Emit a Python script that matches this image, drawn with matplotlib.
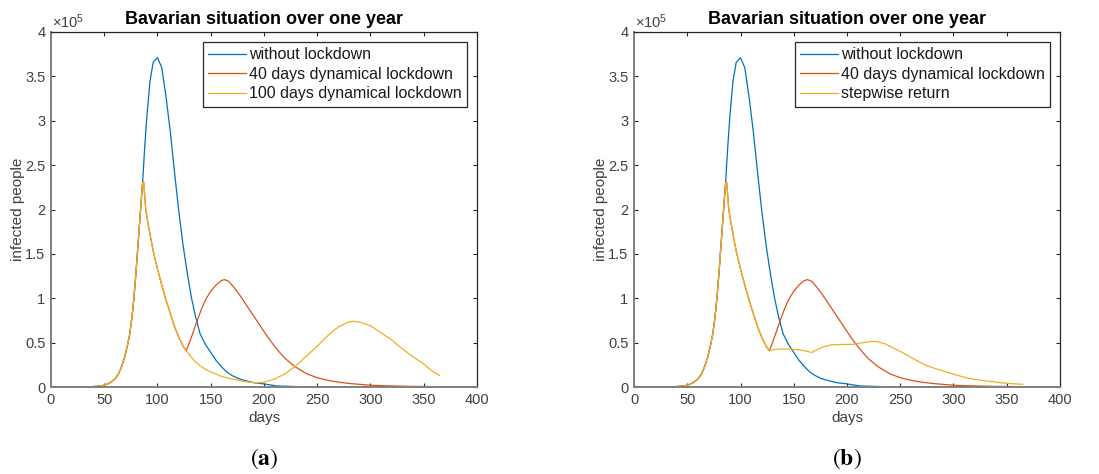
import matplotlib
matplotlib.use('Agg')
import matplotlib.pyplot as plt
from matplotlib.ticker import MultipleLocator, FuncFormatter

plt.rcParams['font.family'] = ['Liberation Sans', 'DejaVu Sans']
plt.rcParams['mathtext.fontset'] = 'custom'
plt.rcParams['mathtext.rm'] = 'Liberation Sans'
plt.rcParams['mathtext.it'] = 'Liberation Sans'

# infected people, in units of 1e5
# growth phase, identical for every scenario
days_growth = [0, 10, 20, 30, 40, 45, 50, 55, 60, 63, 66, 69, 72, 74, 76, 78, 80, 82, 84, 86]
infected_growth = [0.0, 0.0, 0.001, 0.002, 0.005, 0.01, 0.02, 0.045, 0.09, 0.14, 0.22, 0.33,
                   0.48, 0.6, 0.78, 1.02, 1.32, 1.65, 1.98, 2.3]

# no measures at all
days_free = [88, 90, 93, 96, 100, 104, 108, 112, 116, 120, 124, 128, 132, 136, 140, 145, 150,
             155, 160, 165, 170, 175, 180, 190, 200, 212, 230, 260, 300]
infected_free = [2.7, 3.05, 3.45, 3.66, 3.71, 3.6, 3.27, 2.88, 2.42, 1.98, 1.6, 1.28, 1.0, 0.78,
                 0.6, 0.48, 0.39, 0.3, 0.23, 0.17, 0.13, 0.1, 0.08, 0.05, 0.035, 0.012, 0.005,
                 0.002, 0.001]

# first 40 days of lockdown (shared by the lockdown scenarios)
days_lock = [87, 89, 91, 93, 96, 100, 104, 108, 112, 116, 120, 124, 127]
infected_lock = [2.31, 2.0, 1.85, 1.72, 1.53, 1.33, 1.15, 0.98, 0.83, 0.68, 0.56, 0.46, 0.41]

# after a 40 days lockdown
days_40 = [130, 133, 137, 141, 145, 150, 155, 160, 163, 167, 172, 177, 182, 187, 192, 197, 202,
           208, 214, 220, 229, 240, 250, 260, 270, 280, 290, 300, 320, 340, 365]
infected_40 = [0.5, 0.6, 0.74, 0.87, 0.98, 1.08, 1.15, 1.2, 1.21, 1.19, 1.12, 1.04, 0.95, 0.86,
               0.77, 0.68, 0.59, 0.49, 0.4, 0.32, 0.23, 0.15, 0.105, 0.075, 0.055, 0.04, 0.03,
               0.02, 0.012, 0.007, 0.004]

# after a 100 days lockdown
days_100 = [131, 135, 140, 145, 150, 160, 170, 180, 190, 195, 200, 210, 220, 230, 240, 250, 260,
            270, 280, 285, 290, 300, 310, 320, 330, 340, 350, 358, 365]
infected_100 = [0.35, 0.29, 0.24, 0.2, 0.17, 0.12, 0.09, 0.065, 0.05, 0.048, 0.055, 0.09, 0.15,
                0.24, 0.35, 0.46, 0.58, 0.68, 0.735, 0.74, 0.73, 0.69, 0.61, 0.53, 0.43, 0.34,
                0.26, 0.18, 0.13]

# stepwise return after 40 days
days_step = [130, 140, 150, 155, 160, 165, 167, 170, 177, 185, 195, 205, 215, 220, 227, 235, 240,
             247, 254, 265, 275, 285, 293, 300, 310, 320, 334, 345, 352, 365]
infected_step = [0.42, 0.43, 0.425, 0.42, 0.41, 0.395, 0.39, 0.41, 0.45, 0.475, 0.48, 0.48, 0.5,
                 0.51, 0.515, 0.49, 0.46, 0.42, 0.376, 0.3, 0.24, 0.2, 0.17, 0.145, 0.11, 0.085,
                 0.064, 0.048, 0.04, 0.03]

BLUE = '#0072BD'
RED = '#D95319'
YELLOW = '#EDB120'
AXIS = '#262626'
GRIS = '#404040'


def dessiner(ax, jours, valeurs, libelle, lettre):
    ax.plot(days_growth + days_free, infected_growth + infected_free,
            color=BLUE, lw=0.9, label='without lockdown')
    ax.plot(days_growth + days_lock + days_40, infected_growth + infected_lock + infected_40,
            color=RED, lw=0.9, label='40 days dynamical lockdown')
    ax.plot(days_growth + days_lock + jours, infected_growth + infected_lock + valeurs,
            color=YELLOW, lw=0.9, label=libelle)

    ax.set_xlim(0, 400)
    ax.set_ylim(0, 4)
    ax.xaxis.set_major_locator(MultipleLocator(50))
    ax.yaxis.set_major_locator(MultipleLocator(0.5))
    ax.yaxis.set_major_formatter(FuncFormatter(lambda v, p: f'{v:g}'))
    ax.tick_params(direction='in', length=3, width=0.8, top=True, right=True,
                   labelsize=10.5, colors=AXIS, labelcolor=GRIS, pad=4)

    for cote in ['left', 'bottom']:
        ax.spines[cote].set_color('#808080')
        ax.spines[cote].set_linewidth(1.4)
    for cote in ['top', 'right']:
        ax.spines[cote].set_color(AXIS)
        ax.spines[cote].set_linewidth(0.9)

    ax.set_title('Bavarian situation over one year', fontsize=13, fontweight='bold',
                 color='black', pad=6)
    ax.set_xlabel('days', fontsize=11, color=GRIS, labelpad=3)
    ax.set_ylabel('infected people', fontsize=11, color=GRIS, labelpad=0)
    ax.text(0.003, 1.004, r'$\times10^5$', transform=ax.transAxes, fontsize=10.5,
            color=GRIS, ha='left', va='bottom')

    leg = ax.legend(loc='upper right', fontsize=11.5, frameon=True, fancybox=False,
                    edgecolor=AXIS, framealpha=1, handlelength=2.35, handletextpad=0.2,
                    labelspacing=0.28, borderpad=0.35, borderaxespad=0.6)
    leg.get_frame().set_linewidth(0.9)
    for t in leg.get_texts():
        t.set_color('#1a1a1a')

    pos = ax.get_position()
    ax.figure.text(pos.x0 + pos.width / 2, 0.032, r'$(\mathbf{' + lettre + r'})$',
                   math_fontfamily='stix', fontsize=17, ha='center', va='center')


fig = plt.figure(figsize=(10.99, 4.74), dpi=100)
ax_a = fig.add_axes([0.0464, 0.1835, 0.3876, 0.749])
ax_b = fig.add_axes([0.5769, 0.1835, 0.3876, 0.749])

dessiner(ax_a, days_100, infected_100, '100 days dynamical lockdown', 'a')
dessiner(ax_b, days_step, infected_step, 'stepwise return', 'b')

fig.savefig('out.png', dpi=100)
plt.close(fig)
